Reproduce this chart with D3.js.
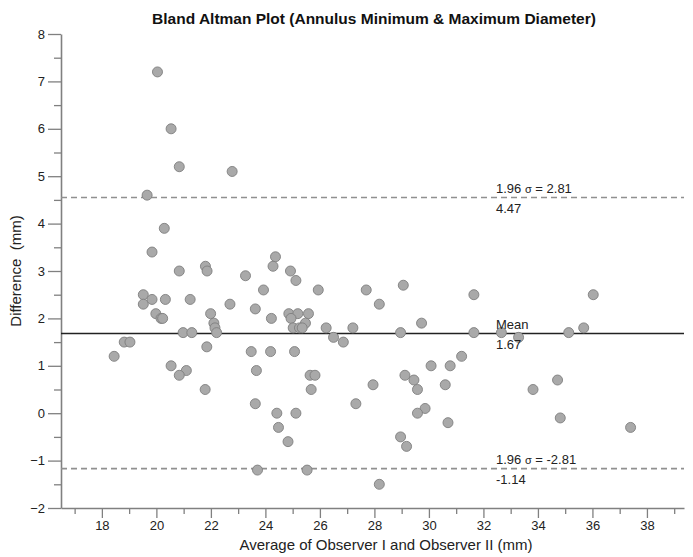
<!DOCTYPE html>
<html><head><meta charset="utf-8">
<script src="https://cdn.jsdelivr.net/npm/d3@7"></script>
<style>body{margin:0;background:#fff}text{font-family:"Liberation Sans",Arial,sans-serif}</style>
</head><body><svg id="c" width="693" height="557"></svg>
<script>
// Average of observers (x) and difference (y)
const avgValues = [20.04,20.54,20.84,22.78,19.66,20.29,19.84,20.84,21.8,21.86,19.52,19.52,19.84,20.33,21.24,22.7,19.98,20.17,20.23,21.99,22.11,22.15,22.21,20.98,21.3,18.82,19.03,18.45,21.85,20.54,21.1,20.84,21.79,24.37,24.28,23.27,24.92,25.12,23.93,25.94,27.7,23.63,24.22,24.86,25.19,25.58,24.94,25.47,25.02,25.25,25.35,26.23,27.21,26.5,26.86,23.48,24.19,25.07,23.67,25.64,25.82,25.68,27.95,23.63,27.32,24.42,25.12,24.48,24.83,23.71,25.53,29.06,28.18,31.65,29.73,28.96,31.65,32.66,31.2,30.08,30.78,29.12,29.45,29.58,30.6,29.86,29.58,30.7,28.96,29.18,28.18,36.03,35.68,35.13,33.29,34.72,33.82,34.82,37.4];
const diffValues = [7.2,6.0,5.2,5.1,4.6,3.9,3.4,3.0,3.1,3.0,2.5,2.3,2.4,2.4,2.4,2.3,2.1,2.0,2.0,2.1,1.9,1.8,1.7,1.7,1.7,1.5,1.5,1.2,1.4,1.0,0.9,0.8,0.5,3.3,3.1,2.9,3.0,2.8,2.6,2.6,2.6,2.2,2.0,2.1,2.1,2.1,2.0,1.9,1.8,1.8,1.8,1.8,1.8,1.6,1.5,1.3,1.3,1.3,0.9,0.8,0.8,0.5,0.6,0.2,0.2,0.0,0.0,-0.3,-0.6,-1.2,-1.2,2.7,2.3,2.5,1.9,1.7,1.7,1.7,1.2,1.0,1.0,0.8,0.7,0.5,0.6,0.1,0.0,-0.2,-0.5,-0.7,-1.5,2.5,1.8,1.7,1.6,0.7,0.5,-0.1,-0.3];

// Reference lines: position on y, text above, text below, style
const lineValues = [4.55, 1.68, -1.17];
const lineTopLabels = [["1.96 ", "σ", " = 2.81"], ["Mean"], ["1.96 ", "σ", " = -2.81"]];
const lineBottomLabels = ["4.47", "1.67", "-1.14"];
const lineDashed = [true, false, true];

const xMajorTicks = [18,20,22,24,26,28,30,32,34,36,38];
const xMinorTicks = [17,19,21,23,25,27,29,31,33,35,37,39];
const yMajorTicks = [-2,-1,0,1,2,3,4,5,6,7,8];
const yMinorTicks = [-1.5,-0.5,0.5,1.5,2.5,3.5,4.5,5.5,6.5,7.5];

const titleText = "Bland Altman Plot (Annulus Minimum & Maximum Diameter)";
const xTitle = "Average of Observer I and Observer II (mm)";
const yTitle = "Difference  (mm)";

const svg = d3.select("#c");
const L = 61, R = 684, T = 34, B = 508;
const x = d3.scaleLinear().domain([16.5, 39.36]).range([L, R]);
const y = d3.scaleLinear().domain([-2, 8]).range([B, T]);

const axisColor = "#808080";

// x axis
const gx = svg.append("g").attr("transform", `translate(0,${B})`);
gx.call(d3.axisBottom(x).tickValues(xMinorTicks).tickSize(6).tickFormat(""));
gx.call(g => g.select(".domain").remove());
const gx2 = svg.append("g").attr("transform", `translate(0,${B})`);
gx2.call(d3.axisBottom(x).tickValues(xMajorTicks).tickSize(10).tickSizeOuter(0).tickPadding(3).tickFormat(d3.format("d")));
gx2.selectAll("text").attr("font-size", 13).attr("fill", "#222");

// y axis
const gy = svg.append("g").attr("transform", `translate(${L},0)`);
gy.call(d3.axisLeft(y).tickValues(yMinorTicks).tickSize(7).tickFormat(""));
gy.call(g => g.select(".domain").remove());
const gy2 = svg.append("g").attr("transform", `translate(${L},0)`);
gy2.call(d3.axisLeft(y).tickValues(yMajorTicks).tickSize(13).tickSizeOuter(0).tickPadding(3).tickFormat(d3.format("d")));
gy2.selectAll("text").attr("font-size", 13).attr("fill", "#222");
svg.selectAll("g line, g path").attr("stroke", axisColor).attr("stroke-width", 1.3);
gx2.select(".domain").attr("stroke-width", 1.6);
gy2.select(".domain").attr("stroke-width", 1.6);

// reference lines
lineValues.forEach((v, i) => {
  svg.append("line").attr("x1", L).attr("x2", R).attr("y1", y(v)).attr("y2", y(v))
    .attr("stroke", lineDashed[i] ? "#909090" : "#222")
    .attr("stroke-width", 1.6)
    .attr("stroke-dasharray", lineDashed[i] ? "6,4" : null);
});

// points
svg.append("g").selectAll("circle").data(avgValues).join("circle")
  .attr("cx", d => x(d)).attr("cy", (d, i) => y(diffValues[i])).attr("r", 5)
  .attr("fill", "#a9a9a9").attr("stroke", "#7f7f7f").attr("stroke-width", 0.9);

// labels for reference lines
const lx = 496;
lineValues.forEach((v, i) => {
  const t = svg.append("text").attr("x", lx).attr("y", y(v) - 5).attr("font-size", 13).attr("fill", "#222");
  lineTopLabels[i].forEach(s => {
    t.append("tspan").text(s).attr("font-size", s === "σ" ? 11 : 13);
  });
  t.style("white-space", "pre");
  svg.append("text").attr("x", lx).attr("y", y(v) + 15).attr("font-size", 13).attr("fill", "#222").text(lineBottomLabels[i]);
});

// titles
svg.append("text").attr("x", 374).attr("y", 24).attr("text-anchor", "middle")
  .attr("font-size", 15.5).attr("font-weight", "bold").attr("fill", "#111").text(titleText);
svg.append("text").attr("x", 386).attr("y", 550).attr("text-anchor", "middle")
  .attr("font-size", 15).attr("fill", "#222").text(xTitle);
svg.append("text").attr("transform", `translate(21,${(T + B) / 2}) rotate(-90)`).attr("text-anchor", "middle")
  .attr("font-size", 15).attr("fill", "#222").style("white-space", "pre").text(yTitle);
</script>
</body></html>
